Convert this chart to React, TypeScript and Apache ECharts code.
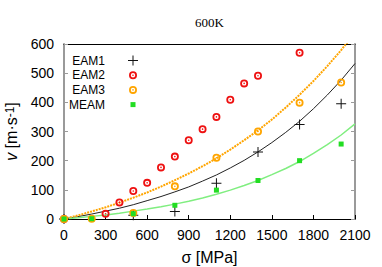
import { useEffect, useRef } from "react";
import * as echarts from "echarts";

// Stress axis (MPa)
const stressTicks = [0, 300, 600, 900, 1200, 1500, 1800, 2100];
const velocityTicks = [0, 100, 200, 300, 400, 500, 600];

// Measured points [stress MPa, velocity m/s]
const eam1Points = [
  [0, 0], [500, 13], [800, 26], [1100, 123], [1400, 230], [1700, 324], [2000, 395],
];
const eam2Points = [
  [0, 0], [300, 18], [400, 57], [500, 96], [600, 124], [700, 177], [800, 214],
  [900, 270], [1000, 308], [1100, 350], [1200, 409], [1300, 465], [1400, 491], [1700, 570],
];
const eam3Points = [
  [0, 0], [200, 1], [500, 21], [800, 112], [1100, 210], [1400, 300], [1700, 399], [2000, 468],
];
const meamPoints = [
  [0, 0], [200, 1], [500, 18], [800, 47], [1100, 99], [1400, 132], [1700, 200], [2000, 257],
];

// Fit curves
const fitStress = [0, 100, 200, 300, 400, 500, 600, 700, 800, 900, 1000, 1100, 1200, 1300, 1400, 1500, 1600, 1700, 1800, 1900, 2000, 2100];
const fitEam1 = [0, 8, 17, 27, 37, 49, 63, 77, 93, 110, 130, 151, 175, 201, 230, 262, 297, 335, 378, 425, 476, 533];
const fitEam3 = [0, 12, 26, 40, 56, 73, 91, 111, 133, 156, 181, 208, 238, 270, 304, 341, 382, 426, 473, 524, 579, 639];
const fitMeam = [0, 4, 9, 14, 20, 27, 34, 42, 51, 61, 72, 85, 99, 115, 132, 152, 173, 197, 225, 255, 288, 326];

const legendNames = ["EAM1", "EAM2", "EAM3", "MEAM"];

const SANS = "'Liberation Sans', Arial, Helvetica, sans-serif";
const SERIF = "'Liberation Serif', 'Times New Roman', serif";

const PLUS = "path://M0,0M10,10M4.5,0H5.5V4.5H10V5.5H5.5V10H4.5V5.5H0V4.5H4.5Z";
const RING =
  "path://M0,0M10,10M5,1A4,4,0,1,1,5,9A4,4,0,1,1,5,1ZM5,2.8A2.2,2.2,0,1,0,5,7.2A2.2,2.2,0,1,0,5,2.8ZM5,4.2A0.8,0.8,0,1,1,5,5.8A0.8,0.8,0,1,1,5,4.2Z";
const SQUARE = "path://M0,0M10,10M2.5,2.5H7.5V7.5H2.5Z";

const zip = (xs: number[], ys: number[]) => xs.map((x, i) => [x, ys[i]]);
const plain = (v: number) => String(v);

export default function App() {
  const ref = useRef<HTMLDivElement>(null);
  useEffect(() => {
    if (!ref.current) return;
    const chart = echarts.init(ref.current, undefined, { renderer: "svg" });
    const grey = "#9a9a9a";
    chart.setOption({
      animation: false,
      backgroundColor: "#fff",
      title: {
        text: "600K",
        left: 195,
        top: 16,
        padding: 0,
        textStyle: { fontFamily: SERIF, fontSize: 13, fontWeight: "normal", color: "#000" },
      },
      legend: {
        data: legendNames,
        orient: "vertical",
        left: 69,
        top: 54.5,
        padding: 0,
        itemGap: 2.7,
        align: "right",
        itemWidth: 46,
        itemHeight: 10,
        selectedMode: false,
        textStyle: { fontFamily: SANS, fontSize: 12, color: "#000" },
      },
      grid: { left: 64, right: 27, top: 44, bottom: 48, outerBoundsMode: "none", containLabel: false },
      xAxis: [
        {
          type: "value",
          min: stressTicks[0],
          max: stressTicks[stressTicks.length - 1],
          interval: 300,
          position: "bottom",
          axisLine: { onZero: false, lineStyle: { color: "#000", width: 1 } },
          axisTick: { inside: true, length: 4, lineStyle: { color: "#000" } },
          axisLabel: { fontFamily: SANS, fontSize: 14, color: "#000", margin: 9, formatter: plain },
          splitLine: { show: false },
          name: "σ [MPa]",
          nameLocation: "middle",
          nameGap: 30,
          nameTextStyle: { fontFamily: SANS, fontSize: 16, color: "#000" },
        },
        {
          type: "value",
          min: 0,
          max: 2100,
          interval: 300,
          position: "top",
          axisLine: { onZero: false, lineStyle: { color: "#000", width: 1 } },
          axisTick: { show: false },
          axisLabel: { show: false },
          splitLine: { show: false },
        },
      ],
      yAxis: [
        {
          type: "value",
          min: velocityTicks[0],
          max: velocityTicks[velocityTicks.length - 1],
          interval: 100,
          position: "left",
          axisLine: { onZero: false, lineStyle: { color: grey, width: 2 } },
          axisTick: { inside: true, length: 4, lineStyle: { color: grey } },
          axisLabel: { fontFamily: SANS, fontSize: 14, color: "#000", margin: 10, formatter: plain },
          splitLine: { show: false },
          name: "{v|v} [m·s{sup|-1}]",
          nameLocation: "middle",
          nameRotate: 90,
          nameGap: 38,
          nameTextStyle: {
            fontFamily: SANS,
            fontSize: 16,
            color: "#000",
            rich: {
              v: { fontFamily: SANS, fontSize: 16, fontStyle: "italic", color: "#000" },
              sup: { fontFamily: SANS, fontSize: 12, color: "#000", verticalAlign: "top" },
            },
          },
        },
        {
          type: "value",
          min: 0,
          max: 600,
          interval: 100,
          position: "right",
          axisLine: { onZero: false, lineStyle: { color: grey, width: 2 } },
          axisTick: { inside: true, length: 4, lineStyle: { color: grey } },
          axisLabel: { show: false },
          splitLine: { show: false },
        },
      ],
      series: [
        {
          type: "line",
          data: zip(fitStress, fitEam1),
          symbol: "none",
          silent: true,
          lineStyle: { color: "#222", width: 1 },
          z: 2,
        },
        {
          type: "line",
          data: zip(fitStress, fitEam3),
          symbol: "none",
          silent: true,
          lineStyle: { color: "#ffa500", width: 2, type: [2, 1] },
          z: 2,
        },
        {
          type: "line",
          data: zip(fitStress, fitMeam),
          symbol: "none",
          silent: true,
          lineStyle: { color: "#80ee80", width: 1.5 },
          z: 2,
        },
        {
          name: "EAM1",
          type: "scatter",
          data: eam1Points,
          symbol: PLUS,
          symbolSize: 10,
          itemStyle: { color: "#111", opacity: 1 },
          z: 3,
        },
        {
          name: "EAM2",
          type: "scatter",
          data: eam2Points,
          symbol: RING,
          symbolSize: 10,
          itemStyle: { color: "#ee1111", opacity: 1 },
          z: 3,
        },
        {
          name: "EAM3",
          type: "scatter",
          data: eam3Points,
          symbol: RING,
          symbolSize: 10,
          itemStyle: { color: "#ffa500", opacity: 1 },
          z: 3,
        },
        {
          name: "MEAM",
          type: "scatter",
          data: meamPoints,
          symbol: SQUARE,
          symbolSize: 10,
          itemStyle: { color: "#22dd22", opacity: 1 },
          z: 3,
        },
      ],
    });
    return () => chart.dispose();
  }, []);
  return (
    <div
      ref={ref}
      style={{ position: "fixed", left: 0, top: 0, width: 382, height: 267, background: "#fff" }}
    />
  );
}
